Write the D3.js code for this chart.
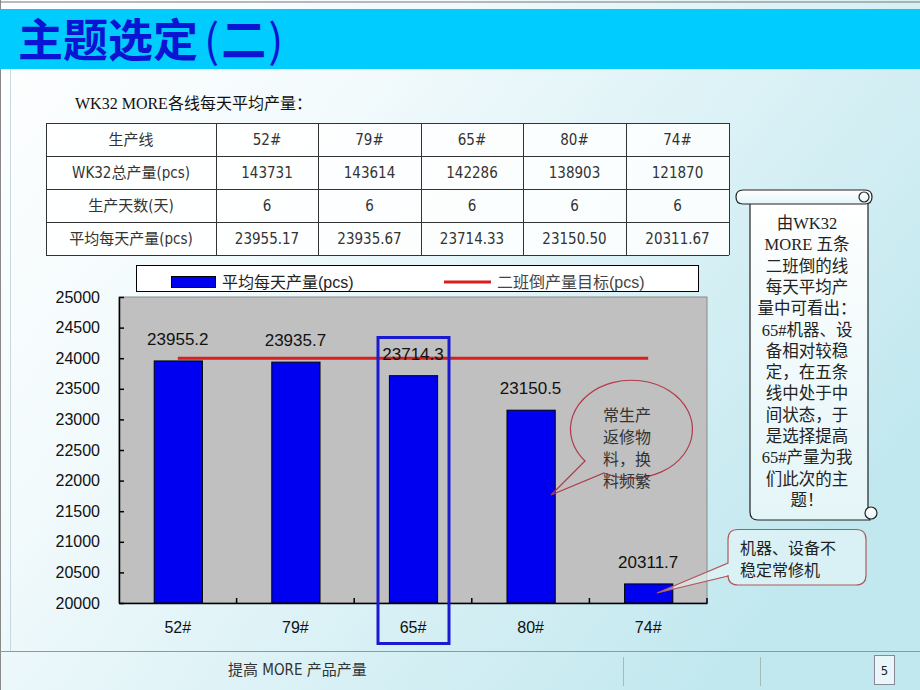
<!DOCTYPE html>
<html><head><meta charset="utf-8">
<script src="https://cdn.jsdelivr.net/npm/d3@7/dist/d3.min.js"></script>
<style>body{margin:0;padding:0;overflow:hidden;background:#fff}svg{display:block}</style>
</head><body>
<script>
// ---- data ----
const lines = ["52#", "79#", "65#", "80#", "74#"];
const totalOutput = [143731, 143614, 142286, 138903, 121870];
const days = [6, 6, 6, 6, 6];
const avgOutputText = ["23955.17", "23935.67", "23714.33", "23150.50", "20311.67"];
const avgOutput = [23955.2, 23935.7, 23714.3, 23150.5, 20311.7];
const target = 24000;
const yTicks = [20000, 20500, 21000, 21500, 22000, 22500, 23000, 23500, 24000, 24500, 25000];
const rowHeaders = ["生产线", "WK32总产量(pcs)", "生产天数(天)", "平均每天产量(pcs)"];
const seriesNames = ["平均每天产量(pcs)", "二班倒产量目标(pcs)"];
const bubbleText = ["常生产", "返修物", "料，换", "料频繁"];
const calloutText = ["机器、设备不", "稳定常修机"];
const scrollText = ["由WK32", "MORE 五条", "二班倒的线", "每天平均产", "量中可看出：", "65#机器、设", "备相对较稳", "定，在五条", "线中处于中", "间状态，于", "是选择提高", "65#产量为我", "们此次的主", "题！"];

const W = 920, H = 690;
const svg = d3.select("body").append("svg").attr("width", W).attr("height", H);
const defs = svg.append("defs");
const bg = defs.append("linearGradient").attr("id", "bg").attr("x1", 0).attr("y1", 0).attr("x2", 1).attr("y2", 0.6);
bg.append("stop").attr("offset", "0%").attr("stop-color", "#ffffff");
bg.append("stop").attr("offset", "35%").attr("stop-color", "#f2fafc");
bg.append("stop").attr("offset", "100%").attr("stop-color", "#c2e8ef");
const sg = defs.append("linearGradient").attr("id", "sg").attr("x1", 0).attr("y1", 0).attr("x2", 0).attr("y2", 1);
sg.append("stop").attr("offset", "0%").attr("stop-color", "#ffffff");
sg.append("stop").attr("offset", "100%").attr("stop-color", "#e4f5f8");

svg.append("rect").attr("width", W).attr("height", H).attr("fill", "url(#bg)");
// frame lines
svg.append("line").attr("x1", 0).attr("x2", W).attr("y1", 2).attr("y2", 2).attr("stroke", "#777").attr("stroke-width", 1);
svg.append("line").attr("x1", 0.5).attr("x2", 0.5).attr("y1", 0).attr("y2", H).attr("stroke", "#888");
svg.append("line").attr("x1", 10.5).attr("x2", 10.5).attr("y1", 69).attr("y2", 651).attr("stroke", "#c8d8e0");

// title bar
svg.append("rect").attr("x", 0).attr("y", 9).attr("width", W).attr("height", 60).attr("fill", "#00ccff");
const title = svg.append("text").attr("x", 18).attr("y", 57).attr("fill", "#0a14d2")
  .style("font-family", "'Noto Sans CJK SC', sans-serif").style("font-weight", "bold").style("font-size", "45px");
title.append("tspan").text("主题选定");
title.append("tspan").attr("dx", 6).style("font-weight", "normal").text("(");
title.append("tspan").attr("dx", 2).text("二");
title.append("tspan").attr("dx", 2).style("font-weight", "normal").text(")");

const serif = "'Liberation Serif', 'Noto Sans CJK SC', serif";
const cjk = "'Noto Sans CJK SC', sans-serif";
svg.append("text").attr("x", 75).attr("y", 109).attr("fill", "#111")
  .style("font-family", serif).style("font-size", "16px").text("WK32 MORE各线每天平均产量：");

// ---- table ----
const colX = [46, 216, 318, 421, 523, 626, 729];
const rowY = [123, 156, 189, 222, 255];
const tbl = svg.append("g");
tbl.append("rect").attr("x", colX[0]).attr("y", rowY[0]).attr("width", colX[6] - colX[0]).attr("height", rowY[4] - rowY[0])
  .attr("fill", "#ffffff").attr("fill-opacity", 0.85);
const rows = [
  [rowHeaders[0], ...lines],
  [rowHeaders[1], ...totalOutput.map(String)],
  [rowHeaders[2], ...days.map(String)],
  [rowHeaders[3], ...avgOutputText]
];
rows.forEach((r, i) => {
  r.forEach((t, j) => {
    tbl.append("text").attr("x", (colX[j] + colX[j + 1]) / 2).attr("y", (rowY[i] + rowY[i + 1]) / 2 + 5.5)
      .attr("text-anchor", "middle").attr("fill", "#333")
      .style("font-family", "'DejaVu Sans Condensed', " + cjk).style("font-size", "15px")
      .style("font-stretch", "condensed").text(t);
  });
});
rowY.forEach(y => tbl.append("line").attr("x1", colX[0]).attr("x2", colX[6]).attr("y1", y + 0.5).attr("y2", y + 0.5).attr("stroke", "#333"));
colX.forEach(x => tbl.append("line").attr("x1", x + 0.5).attr("x2", x + 0.5).attr("y1", rowY[0]).attr("y2", rowY[4]).attr("stroke", "#333"));

// ---- chart ----
const pL = 119, pR = 707, pT = 297, pB = 603;
const x = d3.scaleBand().domain(lines).range([pL, pR]).paddingInner(0.59).paddingOuter(0.295);
const y = d3.scaleLinear().domain([20000, 25000]).range([pB, pT]);

svg.append("rect").attr("x", pL).attr("y", pT).attr("width", pR - pL).attr("height", pB - pT)
  .attr("fill", "#c0c0c0").attr("stroke", "#8a8a8a").attr("stroke-width", 1);

// legend
svg.append("rect").attr("x", 136.5).attr("y", 265.5).attr("width", 562).attr("height", 26).attr("fill", "#fff").attr("stroke", "#000");
svg.append("rect").attr("x", 171.5).attr("y", 276.5).attr("width", 44).attr("height", 11).attr("fill", "#0000f0").attr("stroke", "#000");
svg.append("text").attr("x", 222).attr("y", 288).attr("fill", "#222").style("font-family", "'Liberation Sans', " + cjk).style("font-size", "16px").text(seriesNames[0]);
svg.append("line").attr("x1", 444).attr("x2", 491).attr("y1", 282).attr("y2", 282).attr("stroke", "#d81e1e").attr("stroke-width", 3);
svg.append("text").attr("x", 497).attr("y", 288).attr("fill", "#444").style("font-family", "'Liberation Sans', " + cjk).style("font-size", "16px").text(seriesNames[1]);

// bars
svg.append("g").selectAll("rect").data(lines).join("rect")
  .attr("x", d => x(d) + 0.5).attr("y", (d, i) => y(avgOutput[i]))
  .attr("width", x.bandwidth()).attr("height", (d, i) => y(20000) - y(avgOutput[i]))
  .attr("fill", "#0000f0").attr("stroke", "#000").attr("stroke-width", 1);

// target line (center of first bar to center of last bar)
svg.append("line")
  .attr("x1", x(lines[0]) + x.bandwidth() / 2).attr("x2", x(lines[lines.length - 1]) + x.bandwidth() / 2)
  .attr("y1", y(target)).attr("y2", y(target)).attr("stroke", "#d81e1e").attr("stroke-width", 3);

// data labels
svg.append("g").selectAll("text").data(lines).join("text")
  .attr("x", d => x(d) + x.bandwidth() / 2).attr("y", (d, i) => y(avgOutput[i]) - 16)
  .attr("text-anchor", "middle").attr("fill", "#111")
  .style("font-family", "'Liberation Sans', Arial, sans-serif").style("font-size", "17px")
  .text((d, i) => avgOutput[i].toFixed(1));

// y axis
const yAxis = svg.append("g").attr("transform", `translate(${pL},0)`)
  .call(d3.axisLeft(y).tickValues(yTicks).tickSizeInner(-5).tickSizeOuter(0).tickPadding(19).tickFormat(d3.format("d")));
yAxis.select(".domain").attr("stroke", "#000").attr("stroke-width", 1.5);
yAxis.selectAll(".tick line").attr("stroke", "#000").attr("stroke-width", 1.5);
yAxis.selectAll("text").attr("fill", "#111").style("font-family", "'Liberation Sans', Arial, sans-serif").style("font-size", "16px");

// x axis
const xAxis = svg.append("g").attr("transform", `translate(0,${pB})`)
  .call(d3.axisBottom(x).tickSize(0).tickPadding(19));
xAxis.select(".domain").attr("stroke", "#000").attr("stroke-width", 1.5);
xAxis.selectAll("text").attr("fill", "#111").style("font-family", "'Liberation Sans', Arial, sans-serif").style("font-size", "16px");
// boundary ticks (inside)
const step = x.step();
svg.append("g").selectAll("line").data(d3.range(1, lines.length + 1)).join("line")
  .attr("x1", d => pL + d * step).attr("x2", d => pL + d * step)
  .attr("y1", pB).attr("y2", pB - 5).attr("stroke", "#000").attr("stroke-width", 1.5);

// highlight box around 65#
const hx = x("65#") + x.bandwidth() / 2;
svg.append("rect").attr("x", hx - 35).attr("y", 337.5).attr("width", 71).attr("height", 306)
  .attr("fill", "none").attr("stroke", "#1a1ad0").attr("stroke-width", 3);

// ellipse callout
const bub = svg.append("g");
bub.append("path")
  .attr("d", "M 585 461 A 61 49 0 1 1 604 473 L 551 495 Z")
  .attr("fill", "none").attr("stroke", "#b03a4a").attr("stroke-width", 1.2);
bubbleText.forEach((t, i) => bub.append("text").attr("x", 603).attr("y", 421 + i * 22).attr("fill", "#333")
  .style("font-family", cjk).style("font-size", "16px").text(t));

// rounded-rect callout
const cb = svg.append("g");
cb.append("path")
  .attr("d", "M 738 529.5 L 856 529.5 Q 866 529.5 866 539.5 L 866 575 Q 866 585 856 585 L 738 585 Q 728 585 728 575 L 728 576 L 657 593 L 728 563 L 728 539.5 Q 728 529.5 738 529.5 Z")
  .attr("fill", "#e8f6f9").attr("fill-opacity", 0.6).attr("stroke", "#b05a5a").attr("stroke-width", 1.2);
calloutText.forEach((t, i) => cb.append("text").attr("x", 740).attr("y", 554 + i * 22).attr("fill", "#222")
  .style("font-family", cjk).style("font-size", "16px").text(t));

// scroll
const sc = svg.append("g").attr("fill", "url(#sg)").attr("stroke", "#222").attr("stroke-width", 1.2);
sc.append("path").attr("d", "M 750 203 L 750 512 Q 750 520 758 520 L 870 520 L 868 509 L 868 197 Z");
sc.append("path").attr("d", "M 743 190 L 865 190 Q 872 190 872 197 Q 872 204 865 204 L 743 204 Q 736 204 736 197 Q 736 190 743 190 Z");
sc.append("circle").attr("cx", 864).attr("cy", 197).attr("r", 5);
sc.append("circle").attr("cx", 871).attr("cy", 513).attr("r", 6);
scrollText.forEach((t, i) => svg.append("text").attr("x", 807).attr("y", 229 + i * 21.3).attr("text-anchor", "middle")
  .attr("fill", "#222").style("font-family", serif).style("font-size", "16.5px").text(t));

// footer
svg.append("line").attr("x1", 0).attr("x2", W).attr("y1", 651.5).attr("y2", 651.5).attr("stroke", "#8a9aa0");
svg.append("text").attr("x", 228).attr("y", 675).attr("fill", "#333").style("font-family", "'DejaVu Sans Condensed', " + cjk)
  .style("font-size", "15px").text("提高 MORE 产品产量");
[623.5, 760.5].forEach(xx => svg.append("line").attr("x1", xx).attr("x2", xx).attr("y1", 657).attr("y2", 686).attr("stroke", "#a8b8bc"));
svg.append("rect").attr("x", 874.5).attr("y", 655.5).attr("width", 20).attr("height", 29).attr("fill", "#eaf7fa").attr("stroke", "#889");
svg.append("text").attr("x", 884.5).attr("y", 675).attr("text-anchor", "middle").attr("fill", "#222")
  .style("font-family", "'DejaVu Sans Condensed', sans-serif").style("font-size", "13px").text("5");
</script>
</body></html>
